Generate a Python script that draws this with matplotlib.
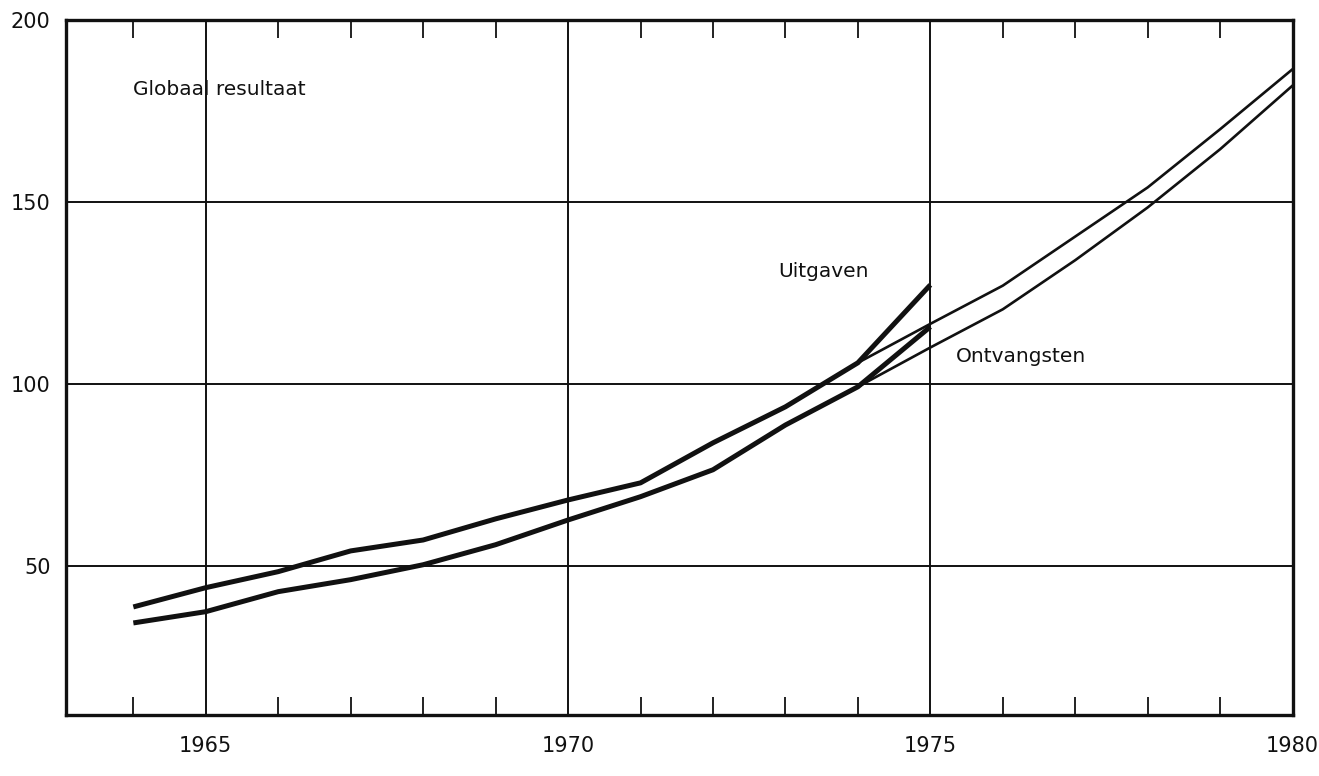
import matplotlib
matplotlib.use("Agg")
import matplotlib.pyplot as plt
from matplotlib.ticker import MultipleLocator, FixedLocator

# --- data ---
years_actual = [1964, 1965, 1966, 1967, 1968, 1969, 1970, 1971, 1972, 1973, 1974, 1975]
uitgaven = [38.7, 44.0, 48.4, 54.1, 57.1, 62.9, 68.1, 72.8, 83.8, 93.7, 105.8, 127.2]
ontvangsten = [34.3, 37.4, 42.9, 46.2, 50.3, 55.8, 62.6, 69.0, 76.4, 88.7, 99.2, 115.7]

years_proj = [1974, 1975, 1976, 1977, 1978, 1979, 1980]
uitgaven_proj = [105.8, 116.5, 127.0, 140.5, 154.0, 170.0, 186.5]
ontvangsten_proj = [99.2, 110.0, 120.5, 134.0, 148.5, 164.5, 182.0]

x_major = [1965, 1970, 1975, 1980]
y_major = [50, 100, 150, 200]

title_text = "Globaal resultaat"
label_uit = "Uitgaven"
label_ont = "Ontvangsten"

# --- figure ---
fig = plt.figure(figsize=(13.19, 7.76), dpi=100)
ax = fig.add_axes([0.050, 0.0786, 0.930, 0.8956])

ink = "#111111"
ax.plot(years_actual, uitgaven, color=ink, lw=3.6, solid_capstyle="butt", zorder=3)
ax.plot(years_actual, ontvangsten, color=ink, lw=3.6, solid_capstyle="butt", zorder=3)
ax.plot(years_proj, uitgaven_proj, color=ink, lw=1.9, zorder=3)
ax.plot(years_proj, ontvangsten_proj, color=ink, lw=1.9, zorder=3)

ax.set_xlim(1963.07, 1980)
ax.set_ylim(9, 200)

ax.xaxis.set_major_locator(FixedLocator(x_major))
ax.xaxis.set_minor_locator(MultipleLocator(1))
ax.yaxis.set_major_locator(FixedLocator(y_major))
ax.set_xticklabels([str(v) for v in x_major])
ax.set_yticklabels([str(v) for v in y_major])

ax.tick_params(axis="x", which="major", length=0, pad=15, labelsize=15, colors=ink)
ax.tick_params(axis="x", which="minor", direction="in", length=13, width=1.3,
               top=True, bottom=True, colors=ink)
ax.tick_params(axis="y", which="major", length=0, pad=11, labelsize=15, colors=ink)

ax.grid(True, which="major", axis="both", color=ink, lw=1.4)
ax.set_axisbelow(True)

for s in ax.spines.values():
    s.set_linewidth(2.4)
    s.set_color(ink)

ax.text(1964.0, 181, title_text, fontsize=14.5, color=ink, va="center", ha="left")
ax.text(1972.9, 130.8, label_uit, fontsize=14.5, color=ink, va="center", ha="left")
ax.text(1975.35, 107.4, label_ont, fontsize=14.5, color=ink, va="center", ha="left")

fig.savefig("out.png", dpi=100)
